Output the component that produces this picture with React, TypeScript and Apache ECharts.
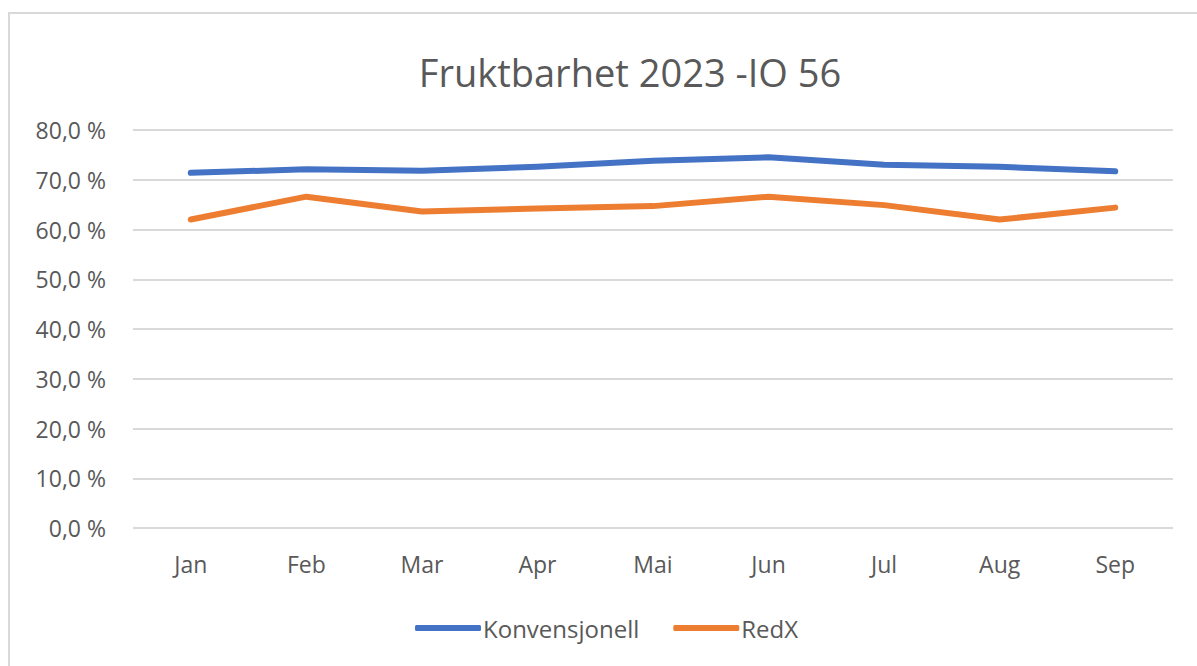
import React, { useEffect, useRef } from "react";
import * as echarts from "echarts";

const titleText = "Fruktbarhet 2023 -IO 56";
const months = ["Jan", "Feb", "Mar", "Apr", "Mai", "Jun", "Jul", "Aug", "Sep"];
const konvensjonell = [71.4, 72.1, 71.8, 72.6, 73.8, 74.5, 73.0, 72.6, 71.7];
const redX = [62.0, 66.6, 63.6, 64.2, 64.7, 66.6, 64.9, 62.0, 64.4];
const seriesNames = ["Konvensjonell", "RedX"];
const colors = ["#4472C4", "#ED7D31"];
const yMin = 0;
const yMax = 80;
const yStep = 10;

const FONT = "Open Sans";
const TEXT = "#595959";

export default function App() {
  const ref = useRef<HTMLDivElement>(null);
  useEffect(() => {
    if (!ref.current) return;
    const chart = echarts.init(ref.current, null, { renderer: "svg" });
    chart.setOption({
      animation: false,
      backgroundColor: "#ffffff",
      textStyle: { fontFamily: FONT },
      title: {
        text: titleText,
        left: 625,
        textAlign: "center",
        top: 48,
        textStyle: { fontFamily: FONT, fontSize: 38, fontWeight: "normal", color: TEXT },
      },
      graphic: [
        {
          type: "rect",
          shape: { x: 9, y: 13, width: 1300, height: 800 },
          style: { fill: "none", stroke: "#d9d9d9", lineWidth: 2 },
          silent: true,
        },
      ],
      legend: {
        bottom: 21,
        left: 410,
        itemWidth: 66,
        itemHeight: 6,
        itemGap: 34,
        icon: "roundRect",
        data: seriesNames,
        textStyle: { fontFamily: FONT, fontSize: 24, color: TEXT, padding: [0, 0, 0, -3] },
      },
      grid: { left: 133, right: 24, top: 130, bottom: 138, containLabel: false },
      xAxis: {
        type: "category",
        data: months,
        boundaryGap: true,
        axisLine: { show: false },
        axisTick: { show: false },
        axisLabel: { fontFamily: FONT, fontSize: 23, color: TEXT, margin: 24 },
      },
      yAxis: {
        type: "value",
        min: yMin,
        max: yMax,
        interval: yStep,
        axisLine: { show: false },
        axisTick: { show: false },
        splitLine: { lineStyle: { color: "#d9d9d9", width: 2 } },
        axisLabel: {
          fontFamily: FONT,
          fontSize: 23,
          color: TEXT,
          margin: 27,
          formatter: (v: number) => v.toFixed(1).replace(".", ",") + " %",
        },
      },
      series: [
        {
          name: seriesNames[0],
          type: "line",
          data: konvensjonell,
          showSymbol: false,
          symbol: "none",
          lineStyle: { color: colors[0], width: 6, cap: "round", join: "round" },
          itemStyle: { color: colors[0] },
        },
        {
          name: seriesNames[1],
          type: "line",
          data: redX,
          showSymbol: false,
          symbol: "none",
          lineStyle: { color: colors[1], width: 6, cap: "round", join: "round" },
          itemStyle: { color: colors[1] },
        },
      ],
    });
    return () => chart.dispose();
  }, []);
  return (
    <div
      ref={ref}
      style={{ position: "fixed", left: 0, top: 0, width: 1197, height: 666 }}
    />
  );
}
